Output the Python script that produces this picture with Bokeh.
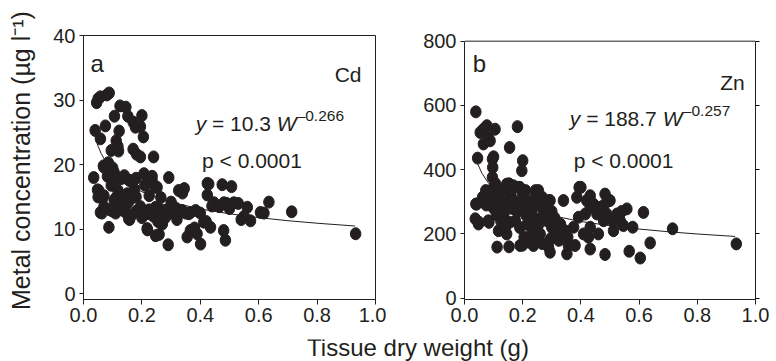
from bokeh.plotting import figure
from bokeh.layouts import column, row
from bokeh.models import (Range1d, Label, FixedTicker, NumeralTickFormatter,
                          ColumnDataSource, LinearAxis, Span)
from bokeh.embed import file_html
from bokeh.resources import INLINE

FONT = "Liberation Sans"
INK = "#231f20"

# ---------------- data ----------------
cd_w = [0.045, 0.050, 0.058, 0.080, 0.088, 0.040, 0.058, 0.075, 0.106, 0.125,
        0.145, 0.152, 0.170, 0.178, 0.200, 0.195, 0.205, 0.122, 0.112, 0.118,
        0.095, 0.120, 0.170, 0.182, 0.195, 0.240, 0.068, 0.085, 0.100, 0.070,
        0.035, 0.082, 0.105, 0.110, 0.125, 0.133, 0.140, 0.156, 0.160, 0.180,
        0.207, 0.235, 0.235, 0.292, 0.048, 0.052, 0.055, 0.050, 0.065, 0.070,
        0.095, 0.118, 0.110, 0.130, 0.150, 0.160, 0.175, 0.180, 0.210, 0.225,
        0.245, 0.252, 0.265, 0.300, 0.326, 0.339, 0.345, 0.424, 0.429, 0.424,
        0.475, 0.507, 0.447, 0.481, 0.515, 0.440, 0.530, 0.465, 0.105, 0.150,
        0.125, 0.058, 0.063, 0.070, 0.090, 0.100, 0.110, 0.130, 0.145, 0.158,
        0.155, 0.165, 0.180, 0.195, 0.201, 0.200, 0.210, 0.224, 0.225, 0.240,
        0.247, 0.255, 0.270, 0.270, 0.285, 0.292, 0.300, 0.315, 0.330, 0.338,
        0.320, 0.350, 0.361, 0.366, 0.384, 0.400, 0.255, 0.270, 0.280, 0.087,
        0.218, 0.219, 0.247, 0.259, 0.290, 0.355, 0.366, 0.389, 0.401, 0.380,
        0.412, 0.435, 0.480, 0.486, 0.561, 0.540, 0.572, 0.550, 0.606, 0.618,
        0.635, 0.713, 0.932, 0.490, 0.500, 0.420]
cd_conc = [29.6, 30.2, 30.5, 30.8, 31.1, 25.3, 24.0, 26.0, 27.5, 29.1,
           28.9, 27.5, 26.6, 25.8, 27.6, 25.9, 24.3, 25.2, 23.7, 22.8,
           22.2, 22.1, 22.4, 21.6, 21.2, 21.2, 19.8, 20.3, 19.5, 19.6,
           18.0, 18.2, 18.8, 18.0, 17.8, 17.9, 18.3, 17.6, 17.5, 17.9,
           18.6, 17.5, 18.2, 18.0, 16.1, 16.0, 15.3, 15.0, 14.8, 15.2,
           16.8, 16.0, 14.8, 15.2, 15.5, 14.6, 16.2, 15.0, 16.8, 15.2,
           16.5, 16.5, 14.9, 14.2, 16.0, 15.6, 16.3, 17.1, 17.0, 15.3,
           16.9, 16.6, 14.1, 14.1, 14.1, 13.6, 14.0, 13.5, 14.5, 14.0,
           13.8, 12.6, 12.5, 13.5, 13.0, 12.8, 12.5, 13.0, 12.6, 11.5,
           11.6, 12.2, 12.8, 13.5, 12.9, 11.8, 12.3, 12.4, 13.0, 12.0,
           13.4, 13.2, 12.5, 12.9, 13.0, 12.4, 12.8, 13.3, 12.6, 12.9,
           11.5, 12.5, 12.4, 12.6, 12.9, 12.5, 11.2, 10.8, 11.8, 10.3,
           10.1, 9.9, 9.0, 9.2, 7.6, 8.8, 9.8, 9.3, 7.7, 10.2,
           11.1, 10.3, 9.8, 8.3, 13.4, 11.5, 11.3, 12.0, 12.6, 12.5,
           14.2, 12.7, 9.3, 14.0, 13.2, 11.2]

zn_w = [0.039, 0.054, 0.065, 0.077, 0.105, 0.082, 0.065, 0.088, 0.182, 0.155,
        0.045, 0.100, 0.096, 0.097, 0.096, 0.200, 0.197, 0.042, 0.039, 0.062,
        0.065, 0.073, 0.082, 0.100, 0.107, 0.123, 0.130, 0.145, 0.153, 0.168,
        0.187, 0.190, 0.210, 0.244, 0.254, 0.267, 0.290, 0.294, 0.037, 0.048,
        0.050, 0.082, 0.084, 0.112, 0.117, 0.145, 0.160, 0.135, 0.155, 0.145,
        0.191, 0.237, 0.289, 0.294, 0.340, 0.386, 0.400, 0.432, 0.483, 0.500,
        0.357, 0.352, 0.380, 0.432, 0.426, 0.483, 0.460, 0.524, 0.535, 0.512,
        0.546, 0.558, 0.578, 0.566, 0.604, 0.615, 0.638, 0.715, 0.934, 0.392,
        0.415, 0.432, 0.455, 0.478, 0.432, 0.409, 0.375, 0.420, 0.443, 0.466,
        0.489, 0.153, 0.199, 0.233, 0.267, 0.296, 0.324, 0.233, 0.394, 0.120,
        0.130, 0.110, 0.125, 0.140, 0.170, 0.180, 0.175, 0.190, 0.200, 0.210,
        0.215, 0.220, 0.230, 0.240, 0.250, 0.255, 0.260, 0.270, 0.280, 0.285,
        0.300, 0.310, 0.320, 0.330, 0.345, 0.355, 0.160, 0.200, 0.240, 0.270,
        0.090, 0.100, 0.115, 0.075, 0.300, 0.205, 0.220, 0.480, 0.510, 0.540,
        0.060]
zn_conc = [580, 516, 526, 537, 526, 500, 480, 490, 534, 469,
           436, 440, 433, 407, 376, 428, 397, 293, 293, 314,
           304, 335, 330, 345, 356, 335, 335, 355, 356, 350,
           345, 345, 335, 335, 335, 314, 304, 304, 247, 231,
           236, 241, 236, 159, 210, 300, 280, 262, 236, 200,
           164, 164, 159, 143, 304, 314, 345, 319, 324, 304,
           164, 138, 164, 153, 190, 136, 200, 262, 241, 210,
           226, 278, 221, 146, 125, 267, 172, 216, 169, 252,
           262, 283, 262, 241, 221, 200, 221, 304, 293, 283,
           262, 160, 165, 180, 170, 185, 180, 210, 345, 300,
           280, 260, 240, 220, 300, 270, 240, 220, 290, 260,
           230, 300, 270, 250, 290, 230, 200, 260, 280, 240,
           220, 250, 200, 230, 210, 190, 320, 320, 310, 290,
           300, 280, 320, 290, 270, 190, 175, 290, 240, 270,
           300]

# fitted curves (y = 10.3 W^-0.266 and y = 188.7 W^-0.257)
cd_fit_w = [0.04, 0.05, 0.06, 0.08, 0.10, 0.15, 0.20, 0.30, 0.40, 0.50, 0.60, 0.70, 0.80, 0.93]
cd_fit_conc = [24.25, 22.85, 21.77, 20.17, 19.0, 17.06, 15.8, 14.19, 13.14, 12.39, 11.8, 11.32, 10.93, 10.5]
zn_fit_w = [0.045, 0.06, 0.08, 0.10, 0.15, 0.20, 0.30, 0.40, 0.50, 0.60, 0.70, 0.80, 0.93]
zn_fit_conc = [418.7, 388.8, 361.2, 341.0, 307.2, 285.4, 257.1, 238.8, 225.5, 215.2, 206.8, 199.8, 192.2]

x_ticks = [0.0, 0.2, 0.4, 0.6, 0.8, 1.0]
cd_ticks = [0, 10, 20, 30, 40]
zn_ticks = [0, 200, 400, 600, 800]

BOTTOM = 40          # bottom border of both panels (px)


def lab(p, text, x, y, size, style="normal", align="left", xo=0, yo=0):
    p.add_layout(Label(x=x, y=y, text=text, text_font=FONT, text_font_size=size,
                       text_font_style=style, text_color=INK, text_align=align,
                       text_baseline="alphabetic", x_offset=xo, y_offset=yo))


def make_panel(w, c, fw, fc, yticks, ylo, yhi, ytop, borders, ylabel,
               letter, letter_pos, metal, metal_pos, coef, expo, eq_pos, eq_off, w_off, sup_off, p_pos):
    left, right, fwidth = borders
    p = figure(frame_width=fwidth, frame_height=264, title=None,
               x_range=Range1d(0, 1.0), y_range=Range1d(ylo, ytop),
               output_backend="svg", toolbar_location=None,
               min_border_left=left, min_border_right=right,
               min_border_top=35, min_border_bottom=BOTTOM)
    p.grid.visible = False
    p.background_fill_color = "white"
    p.border_fill_color = "white"
    if ytop > yhi:
        # frame reaches above the top tick: draw the box edges only up to it
        p.outline_line_color = None
        p.yaxis.bounds = (ylo, yhi)
        rax = LinearAxis(bounds=(ylo, yhi), ticker=FixedTicker(ticks=[]),
                         axis_line_color=INK, major_tick_out=0, major_tick_in=0,
                         minor_tick_out=0, minor_tick_in=0,
                         major_label_text_color=None)
        p.add_layout(rax, "right")
        p.add_layout(Span(location=yhi, dimension="width", line_color=INK, line_width=1))
    else:
        p.outline_line_color = INK
        p.outline_line_width = 1
        p.outline_line_alpha = 1

    p.xaxis.ticker = FixedTicker(ticks=x_ticks)
    p.xaxis.formatter = NumeralTickFormatter(format="0.0")
    p.yaxis.ticker = FixedTicker(ticks=yticks)
    for ax in (p.xaxis[0], p.yaxis[0]):
        ax.axis_line_color = INK
        ax.major_tick_line_color = INK
        ax.minor_tick_line_color = None
        ax.major_tick_in = 0
        ax.major_label_text_font = FONT
        ax.major_label_text_font_size = "20px"
        ax.major_label_text_color = INK
    p.xaxis.major_tick_out = 5
    p.yaxis.major_tick_out = 4
    p.xaxis.major_label_standoff = 3
    p.yaxis.major_label_standoff = 4
    if ylabel:
        p.yaxis.axis_label = ylabel
        p.yaxis.axis_label_text_font = FONT
        p.yaxis.axis_label_text_font_size = "25px"
        p.yaxis.axis_label_text_font_style = "normal"
        p.yaxis.axis_label_text_color = INK
        p.yaxis.axis_label_standoff = 15

    src = ColumnDataSource(dict(w=w, c=c))
    p.ellipse(x="w", y="c", width=10.5, height=12, width_units="screen",
              height_units="screen", source=src, fill_color=INK, line_color=INK)
    p.line(fw, fc, line_color=INK, line_width=1)

    lab(p, letter, letter_pos[0], letter_pos[1], "24px")
    lab(p, metal, metal_pos[0], metal_pos[1], "21px", align="right")
    lab(p, "y", eq_pos[0], eq_pos[1], "21px", style="italic")
    lab(p, "= " + coef, eq_pos[0], eq_pos[1], "21px", xo=eq_off)
    lab(p, "W", eq_pos[0], eq_pos[1], "21px", style="italic", xo=w_off)
    lab(p, "\u2013" + expo, eq_pos[0], eq_pos[1], "15.5px", xo=sup_off, yo=8)
    lab(p, "p < 0.0001", p_pos[0], p_pos[1], "21px")
    return p


# panel a: 40 at 35 px, 0 at 293.3 px; frame 35..299 px
pa = make_panel(cd_w, cd_conc, cd_fit_w, cd_fit_conc, cd_ticks, -0.88, 40.0, 40.0,
                (83, 11, 292), "\u00a0\u00a0Metal concentration (\u00b5g l\u207b\u00b9)",
                "a", (0.024, 35.6), "Cd", (0.952, 33.9), "10.3", "0.266",
                (0.384, 26.3), 16.3, 81, 101, (0.406, 20.6))
# panel b: 800 at 40.7 px, 0 at 297.7 px; frame 35..299 px
pb = make_panel(zn_w, zn_conc, zn_fit_w, zn_fit_conc, zn_ticks, -4.1, 800.0, 817.7,
                (78, 21, 291), None,
                "b", (0.0285, 729), "Zn", (0.963, 672), "188.7", "0.257",
                (0.362, 558), 16.3, 93, 113, (0.375, 428))

pt = figure(frame_width=776, frame_height=40, x_range=Range1d(0, 1), y_range=Range1d(0, 1),
            output_backend="svg", toolbar_location=None, x_axis_type=None, y_axis_type=None,
            min_border=0, title=None)
pt.grid.visible = False
pt.outline_line_color = None
pt.add_layout(Label(x=417.5, y=32, x_units="screen", y_units="screen",
                    text="Tissue dry weight (g)", text_font=FONT, text_font_size="24px",
                    text_color=INK, text_align="center", text_baseline="alphabetic"))

layout = column(row(pa, pb, spacing=0), pt, spacing=0)
open("out.html", "w").write(file_html(layout, INLINE))
